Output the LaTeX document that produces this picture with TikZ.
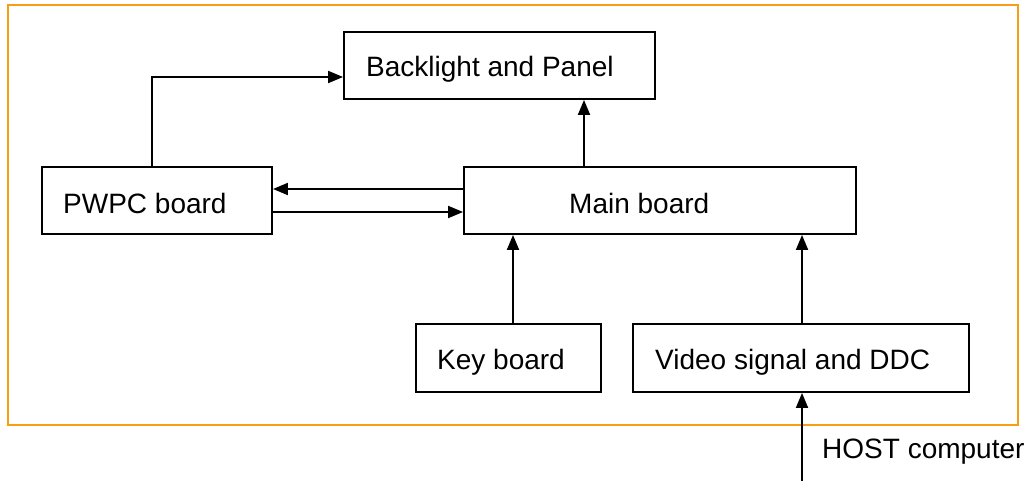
\documentclass[tikz,border=0pt]{standalone}
\usepackage{fontspec}
\setmainfont{Liberation Sans}
\usetikzlibrary{arrows.meta,positioning,calc}
\definecolor{frameorange}{RGB}{248,158,20}
\begin{document}
\begin{tikzpicture}[x=1pt,y=-1pt,
  box/.style={draw, line width=1.9pt, rectangle, inner sep=0pt},
  lbl/.style={inner sep=0pt, anchor=base west, font=\fontsize{28}{32}\selectfont},
  arr/.style={-{Triangle[length=15pt,width=12pt]}, line width=1.9pt}]
\useasboundingbox (0,0) rectangle (1024,481);
% Outer frame
\draw[frameorange, line width=2pt] (8,5) rectangle (1018,425);
% Boxes
\node[box, minimum width=311pt, minimum height=67pt] (back) at (499.5,65.5) {};
\node[box, minimum width=230pt, minimum height=67pt] (pwpc) at (157,200.5) {};
\node[box, minimum width=392pt, minimum height=67pt] (main) at (660,200.5) {};
\node[box, minimum width=185pt, minimum height=68pt] (key) at (508.5,358) {};
\node[box, minimum width=336pt, minimum height=68pt] (video) at (801,358) {};
% Labels
\node[lbl] (backtxt) at (366,77) {Backlight and Panel};
\node[lbl] (pwpctxt) at (63,213) {PWPC board};
\node[lbl] (maintxt) at (569,213) {Main board};
\node[lbl] (keytxt) at (437,369) {Key board};
\node[lbl] (videotxt) at (655,369) {Video signal and DDC};
\node[lbl] (hosttxt) at (822,458) {HOST computer};
% Guide coordinates
\coordinate (xp) at (152,0);
\coordinate (yb) at (0,77);
\coordinate (xm) at (584,0);
\coordinate (ya) at (0,189);
\coordinate (yc) at (0,212);
\coordinate (xk) at (513,0);
\coordinate (xv) at (802,0);
\coordinate (host) at (802,481);
% Connectors
\draw[arr] (pwpc.north -| xp) |- (back.west |- yb);
\draw[arr] (main.north -| xm) -- (back.south -| xm);
\draw[arr] (main.west |- ya) -- (pwpc.east |- ya);
\draw[arr] (pwpc.east |- yc) -- (main.west |- yc);
\draw[arr] (key.north -| xk) -- (main.south -| xk);
\draw[arr] (video.north -| xv) -- (main.south -| xv);
\draw[arr] (host) -- (video.south -| xv);
\end{tikzpicture}
\end{document}
